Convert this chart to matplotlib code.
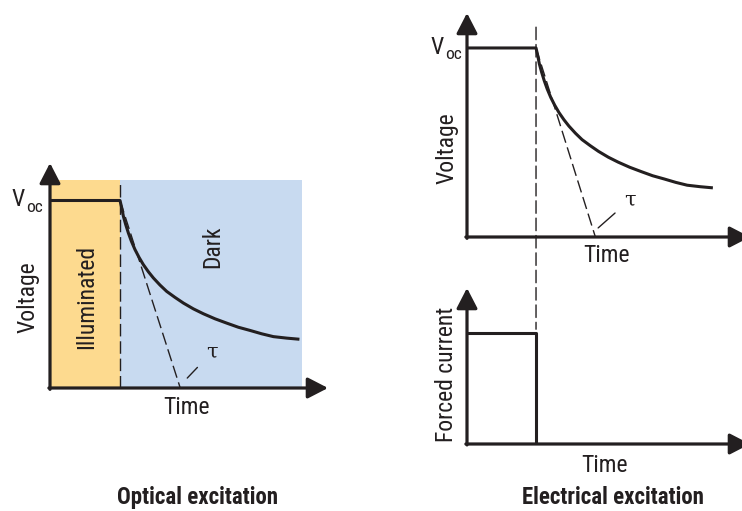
import matplotlib
matplotlib.use("Agg")
import matplotlib.pyplot as plt
from matplotlib import font_manager as fm
from matplotlib.patches import ConnectionPatch

W, H = 742, 511

# --- data (time in units of switch-off time, voltage in units of Voc) ---
switch_t = 1.0
decay_t = [1.0, 1.024, 1.048, 1.081, 1.119, 1.162, 1.214, 1.271, 1.333, 1.405, 1.476,
           1.571, 1.667, 1.786, 1.905, 2.048, 2.19, 2.357, 2.524, 2.69, 2.857, 3.024,
           3.19, 3.381, 3.562]
decay_v = [1.0, 0.961, 0.916, 0.872, 0.827, 0.783, 0.738, 0.697, 0.658, 0.62, 0.587,
           0.549, 0.515, 0.483, 0.453, 0.422, 0.396, 0.369, 0.346, 0.324, 0.307, 0.289,
           0.274, 0.266, 0.26]
tangent_t = [1.0, 1.86]
tangent_v = [1.0, 0.0]
pulse_t = [0.0, 1.0, 1.0]
pulse_i = [1.0, 1.0, 0.0]
light_top = 1.11
dark_end = 3.6

volt_t = [0.0] + decay_t
volt_v = [1.0] + decay_v

ORANGE = "#FDDA8F"
BLUE = "#C8DAF0"
ink = "#231f20"


def find_narrow(bold):
    # look for a condensed / narrow sans face among the installed fonts
    prefs = ["liberation sans narrow", "roboto condensed", "noto sans", "open sans",
             "dejavu sans", "lato", "inter"]
    best = None
    for f in fm.fontManager.ttflist:
        nm = f.name.lower()
        narrow = ("narrow" in nm or "condensed" in nm or "condensed" in str(f.stretch)
                  or "cond" in f.fname.lower())
        if not narrow or f.style != "normal":
            continue
        if "extra" in f.fname.lower() or "semi" in f.fname.lower():
            continue
        w = f.weight if isinstance(f.weight, int) else (700 if "bold" in str(f.weight) else 400)
        if (w >= 600) != bold or w in (100, 200, 300, 800, 900):
            continue
        rank = next((i for i, p in enumerate(prefs) if nm.startswith(p)), len(prefs))
        if best is None or rank < best[0]:
            best = (rank, f.fname)
    return best[1] if best else None


REG = find_narrow(False)
BOLD = find_narrow(True)


def fprop(size, bold=False):
    path = BOLD if bold else REG
    if path:
        return fm.FontProperties(fname=path, size=size)
    return fm.FontProperties(family="DejaVu Sans", size=size * 0.85,
                             weight="bold" if bold else "normal")


fig = plt.figure(figsize=(W / 100, H / 100), dpi=100)


def px_axes(left, top, right, bottom):
    # axes placed by pixel edges of the original picture
    return fig.add_axes([left / W, 1 - bottom / H, (right - left) / W, (bottom - top) / H])


def draw_axes_arrows(ax):
    for s in ax.spines.values():
        s.set_visible(False)
    ax.set_xticks([])
    ax.set_yticks([])
    ax.patch.set_alpha(0)
    head = dict(arrowstyle="-|>,head_length=0.62,head_width=0.32", mutation_scale=20,
                lw=2.3, color=ink, shrinkA=0, shrinkB=0)
    ax.annotate("", xy=(1, 0), xytext=(-0.004, 0), xycoords="axes fraction",
                arrowprops=head, annotation_clip=False)
    ax.annotate("", xy=(0, 1), xytext=(0, -0.006), xycoords="axes fraction",
                arrowprops=head, annotation_clip=False)


def ftext(x, y, s, size=17, bold=False, **kw):
    fig.text(x / W, 1 - y / H, s, ha="center", va="center", color=ink,
             fontproperties=fprop(size, bold), **kw)


def voc(x, y):
    ftext(x, y, "V", size=17)
    ftext(x + 16, y + 7, "oc", size=12.5)


lw_curve = 2.2
dash = (0, (9, 3.5))

# ---------------- optical excitation ----------------
ax1 = px_axes(50, 163, 328, 388)
ax1.set_xlim(0, 3.97)
ax1.set_ylim(0, 1.2)
ax1.fill_between([0, switch_t], 0, light_top, color=ORANGE, lw=0)
ax1.fill_between([switch_t, dark_end], 0, light_top, color=BLUE, lw=0)
ax1.plot([switch_t, switch_t], [0, light_top], color=ink, lw=1.0, ls=dash)
ax1.plot(tangent_t, tangent_v, color=ink, lw=1.0, ls=dash)
ax1.plot(volt_t, volt_v, color=ink, lw=lw_curve, solid_capstyle="butt")
ax1.annotate("τ", xy=(1.96, 0.053), xytext=(2.31, 0.19), fontsize=15, color=ink,
             ha="center", va="center", family="DejaVu Serif",
             arrowprops=dict(arrowstyle="-", lw=1.0, color=ink, shrinkA=6, shrinkB=0))
draw_axes_arrows(ax1)

ftext(28, 297, "Voltage", rotation=90)
ftext(87, 297, "Illuminated", rotation=90)
ftext(213, 247, "Dark", rotation=90)
ftext(186, 408, "Time")
voc(18.5, 200)
ftext(197, 497, "Optical excitation", size=16.5, bold=True)

# ---------------- electrical excitation: voltage ----------------
# right end runs past the picture edge, so the arrow tip is cut like in the original
ax2 = px_axes(467, 13, 750, 237)
ax2.set_xlim(0, 4.1)
ax2.set_ylim(0, 1.185)
ax2.plot(tangent_t, tangent_v, color=ink, lw=1.0, ls=dash)
ax2.plot(volt_t, volt_v, color=ink, lw=lw_curve, solid_capstyle="butt")
ax2.annotate("τ", xy=(1.9, 0.048), xytext=(2.36, 0.196), fontsize=15, color=ink,
             ha="center", va="center", family="DejaVu Serif",
             arrowprops=dict(arrowstyle="-", lw=1.0, color=ink, shrinkA=6, shrinkB=0))
draw_axes_arrows(ax2)

ftext(447, 148, "Voltage", rotation=90)
voc(437, 47.5)
ftext(606, 256, "Time")

# ---------------- electrical excitation: forced current ----------------
ax3 = px_axes(467, 288, 750, 444)
ax3.set_xlim(0, 4.1)
ax3.set_ylim(0, 1.4)
ax3.plot(pulse_t, pulse_i, color=ink, lw=lw_curve)
draw_axes_arrows(ax3)

ftext(446, 374, "Forced current", rotation=90)
ftext(605, 465, "Time")
ftext(613, 497, "Electrical excitation", size=16.5, bold=True)

# dashed line running from the voltage panel into the current panel
con = ConnectionPatch(xyA=(switch_t, light_top), coordsA=ax2.transData,
                      xyB=(switch_t, 1.03), coordsB=ax3.transData,
                      color=ink, lw=1.0, ls=dash)
fig.add_artist(con)

fig.savefig("out.png", dpi=100)
